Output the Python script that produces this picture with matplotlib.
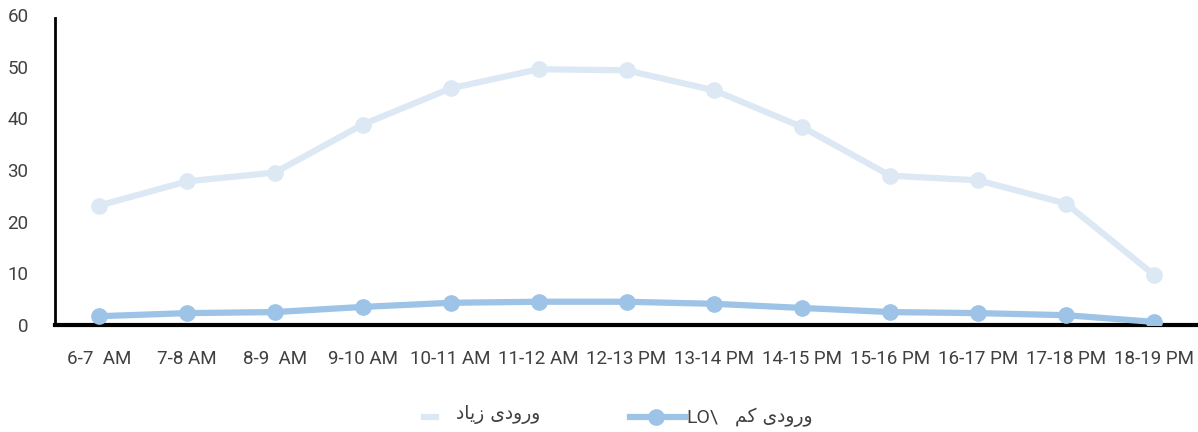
import matplotlib
matplotlib.use('Agg')
import matplotlib.pyplot as plt
from matplotlib.lines import Line2D

# data
hours = ['6-7  AM', '7-8 AM', '8-9  AM', '9-10 AM', '10-11 AM', '11-12 AM', '12-13 PM',
         '13-14 PM', '14-15 PM', '15-16 PM', '16-17 PM', '17-18 PM', '18-19 PM']
high = [23.1, 27.8, 29.5, 38.8, 45.8, 49.5, 49.3, 45.4, 38.3, 28.9, 28.0, 23.5, 9.7]
low = [1.7, 2.3, 2.5, 3.5, 4.3, 4.5, 4.5, 4.1, 3.3, 2.5, 2.3, 1.9, 0.6]

# Persian labels as pre-shaped presentation forms in visual order
label_high = '\uFEA9\uFE8E\uFBFE\uFEAF \uFBFC\uFEA9\uFEED\uFEAD\uFEED'   # ورودی زیاد
label_low = '\uFEE2\uFB90 \uFBFC\uFEA9\uFEED\uFEAD\uFEED'                # ورودی کم

C_HIGH = '#dde8f5'
C_LOW = '#9dc3e6'
TXT = '#404040'

plt.rcParams['font.family'] = ['Roboto', 'DejaVu Sans']

fig = plt.figure(figsize=(11.98, 4.32), dpi=100)
ax = fig.add_axes([55 / 1198, (432 - 325) / 432, (1198 - 55) / 1198, (325 - 15) / 432])

x = range(len(hours))
ax.plot(x, high, color=C_HIGH, lw=4.5, marker='o', ms=11, solid_capstyle='round', zorder=2)
ax.plot(x, low, color=C_LOW, lw=4.5, marker='o', ms=11, solid_capstyle='round', zorder=3)

ax.set_xlim(-0.5, len(hours) - 0.5)
ax.set_ylim(0, 60)
ax.set_yticks(range(0, 61, 10))
ax.set_xticks(list(x))
ax.set_xticklabels(hours)
ax.tick_params(length=0, labelsize=13.5, labelcolor=TXT)
ax.tick_params(axis='y', pad=19)
ax.tick_params(axis='x', pad=18)

for s in ['top', 'right']:
    ax.spines[s].set_visible(False)
ax.spines['left'].set_linewidth(2)
ax.spines['bottom'].set_linewidth(3)
ax.spines['left'].set_bounds(0, 59.5)

# legend drawn by hand
fy = 1 - 417 / 432
fig.add_artist(Line2D([424 / 1198, 436 / 1198], [fy, fy], color=C_HIGH, lw=4.5))
fig.text(540 / 1198, fy + 0.006, label_high, ha='right', va='center', fontsize=13.5,
         color=TXT, family='DejaVu Sans')
fig.add_artist(Line2D([630 / 1198, 685 / 1198], [fy, fy], color=C_LOW, lw=4.5))
fig.add_artist(Line2D([656 / 1198], [fy], color=C_LOW, marker='o', ms=11, lw=0))
fig.text(686 / 1198, fy, 'LO\\', ha='left', va='center', fontsize=14,
         color=TXT)
fig.text(813 / 1198, fy, label_low, ha='right', va='center', fontsize=13.5,
         color=TXT, family='DejaVu Sans')

fig.savefig('out.png', dpi=100)
